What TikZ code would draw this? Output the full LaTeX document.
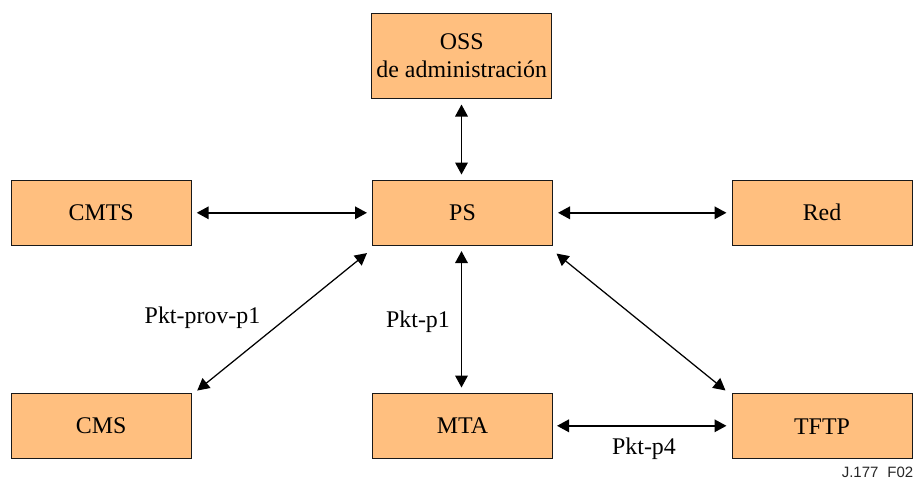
\documentclass[tikz,border=0pt]{standalone}
\usepackage{fontspec}
\setmainfont{Liberation Serif}
\newfontfamily\notefont{Liberation Sans}
\usetikzlibrary{arrows.meta}
\definecolor{boxfill}{HTML}{FFBF7F}
\tikzset{
  unitbox/.style={draw=black!90,line width=1pt,fill=boxfill,inner sep=0pt,align=center,
    minimum width=180pt,minimum height=65.5pt,font=\fontsize{23.9}{28}\selectfont},
  link/.style={{Triangle[length=12pt,width=12.5pt]}-{Triangle[length=12pt,width=12.5pt]},line width=1.8pt,black},
  thinlink/.style={link,line width=1.25pt},
  tag/.style={anchor=base,inner sep=0pt,font=\fontsize{23.9}{28}\selectfont,text=black},
}
\begin{document}
\begin{tikzpicture}[x=1pt,y=-1pt]
\useasboundingbox (0,0) rectangle (916,480);
\node[unitbox,minimum height=85pt] (oss) at (461.7,56) {OSS\\de administración};
\node[unitbox] (ps) at (462.5,212.8) {PS};
\node[unitbox] (cmts) at (101.2,212.8) {CMTS};
\node[unitbox] (red) at (822,212.8) {Red};
\node[unitbox] (cms) at (101.2,425.8) {CMS};
\node[unitbox] (mta) at (462.5,425.8) {MTA};
\node[unitbox] (tftp) at (822,426.2) {TFTP};
\draw[link,shorten <=5.5pt,shorten >=5pt] (oss.south -| 461.5,0) -- (ps.north -| 461.5,0);
\draw[link,shorten <=5pt,shorten >=5pt] (cmts.east) -- (ps.west);
\draw[link,shorten <=5pt,shorten >=5pt] (ps.east) -- (red.west);
\draw[link,shorten <=5pt,shorten >=5pt] (ps.south -| 461.5,0) -- (mta.north -| 461.5,0);
\draw[link,shorten <=4pt,shorten >=5pt] (mta.east) -- (tftp.west |- mta.east);
\draw[thinlink] ([shift={(-5,7)}]ps.south west) -- ([shift={(5.5,-2)}]cms.north east);
\draw[thinlink] ([shift={(3.5,7.5)}]ps.south east) -- ([shift={(-6,-2.5)}]tftp.north west);
\node[tag] (l1) at (202.5,323) {Pkt-prov-p1};
\node[tag] (l2) at (418,327) {Pkt-p1};
\node[tag] (l3) at (644,454) {Pkt-p4};
\node[anchor=base east,inner sep=0pt,font=\notefont\fontsize{15}{16}\selectfont,text=black!85] (fig) at (913.5,477) {J.177\hspace{9pt}F02};
\end{tikzpicture}
\end{document}
